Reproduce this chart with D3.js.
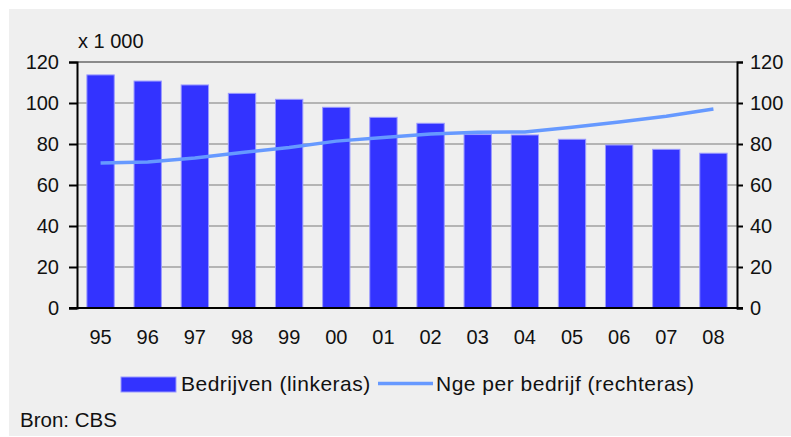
<!DOCTYPE html>
<html lang="nl">
<head>
<meta charset="utf-8">
<title>Bedrijven</title>
<script src="https://cdn.jsdelivr.net/npm/d3@7"></script>
<style>
  body { margin: 0; background: #ffffff; }
  text { font-family: "Liberation Sans", Arial, sans-serif; fill: #111; }
</style>
</head>
<body>
<script>

var years = ["95", "96", "97", "98", "99", "00", "01", "02", "03", "04", "05", "06", "07", "08"];
// bedrijven (x 1 000), left axis
var bedrijven = [113.7, 110.7, 108.8, 104.7, 101.8, 97.9, 93.0, 90.1, 84.6, 84.4, 82.3, 79.5, 77.4, 75.5];
// nge per bedrijf, right axis
var ngePerBedrijf = [70.7, 71.2, 73.2, 75.9, 78.3, 81.4, 83.2, 84.9, 85.7, 85.9, 88.2, 90.7, 93.5, 97.1];
var yTicks = [0, 20, 40, 60, 80, 100, 120];

var width = 791, height = 437;
var plotLeft = 77, plotRight = 737, plotTop = 62, plotBottom = 308;

var svg = d3.select("body").append("svg")
            .attr("width", width)
            .attr("height", height);

// grey panel
svg.append("rect")
   .attr("x", 9).attr("y", 9)
   .attr("width", width - 9).attr("height", 427)
   .attr("fill", "#efefef");

var x = d3.scaleBand()
          .domain(years)
          .range([plotLeft, plotRight])
          .paddingInner(0.42)
          .paddingOuter(0.21);

var yL = d3.scaleLinear().domain([0, 120]).range([plotBottom, plotTop]);
var yR = d3.scaleLinear().domain([0, 120]).range([plotBottom, plotTop]);

// gridlines
svg.selectAll("line.grid")
   .data(yTicks.filter(function(d) { return d > 0; }))
   .enter()
   .append("line")
   .attr("class", "grid")
   .attr("x1", plotLeft).attr("x2", plotRight)
   .attr("y1", function(d) { return yL(d); })
   .attr("y2", function(d) { return yL(d); })
   .attr("stroke", function(d) { return d == 120 ? "#8a8a8a" : "#b4b4b4"; })
   .attr("stroke-width", 2);

// bars
svg.selectAll("rect.bar")
   .data(bedrijven)
   .enter()
   .append("rect")
   .attr("class", "bar")
   .attr("x", function(d, i) { return x(years[i]); })
   .attr("y", function(d) { return yL(d); })
   .attr("width", x.bandwidth())
   .attr("height", function(d) { return yL(0) - yL(d); })
   .attr("fill", "#3333ff")
   .attr("stroke", "#9a9aff")
   .attr("stroke-width", 1);

// line
var line = d3.line()
             .x(function(d, i) { return x(years[i]) + x.bandwidth() / 2; })
             .y(function(d) { return yR(d); });

svg.append("path")
   .datum(ngePerBedrijf)
   .attr("d", line)
   .attr("fill", "none")
   .attr("stroke", "#6699ff")
   .attr("stroke-width", 3.5);

// axes
var leftAxis = svg.append("g")
   .attr("transform", "translate(" + plotLeft + ",0)")
   .call(d3.axisLeft(yL).tickValues(yTicks).tickSize(8).tickPadding(10));
var rightAxis = svg.append("g")
   .attr("transform", "translate(" + plotRight + ",0)")
   .call(d3.axisRight(yR).tickValues(yTicks).tickSize(6).tickPadding(7));
var bottomAxis = svg.append("g")
   .attr("transform", "translate(0," + plotBottom + ")")
   .call(d3.axisBottom(x).tickSize(0).tickPadding(22));

[leftAxis, rightAxis, bottomAxis].forEach(function(g) {
  g.select(".domain").attr("stroke", "#000").attr("stroke-width", 2);
  g.selectAll(".tick line").attr("stroke", "#000").attr("stroke-width", 2);
  g.selectAll("text").attr("font-size", 20).attr("fill", "#111")
   .attr("font-family", "Liberation Sans, Arial, sans-serif");
});
bottomAxis.select(".domain").attr("d", "M" + (plotLeft - 8) + ",0H" + (plotRight + 6));

svg.append("text")
   .attr("x", 78).attr("y", 48)
   .attr("font-size", 20)
   .text("x 1 000");

// legend
svg.append("rect")
   .attr("x", 121).attr("y", 377)
   .attr("width", 55).attr("height", 15)
   .attr("fill", "#3333ff")
   .attr("stroke", "#9a9aff");
svg.append("text")
   .attr("x", 181).attr("y", 391)
   .attr("font-size", 21)
   .attr("letter-spacing", 0.5)
   .text("Bedrijven (linkeras)");
svg.append("line")
   .attr("x1", 378).attr("x2", 433)
   .attr("y1", 383.5).attr("y2", 383.5)
   .attr("stroke", "#6699ff")
   .attr("stroke-width", 3.5);
svg.append("text")
   .attr("x", 436).attr("y", 391)
   .attr("font-size", 21)
   .attr("letter-spacing", 0.5)
   .text("Nge per bedrijf (rechteras)");

svg.append("text")
   .attr("x", 20).attr("y", 427)
   .attr("font-size", 20.5)
   .text("Bron: CBS");

</script>
</body>
</html>
